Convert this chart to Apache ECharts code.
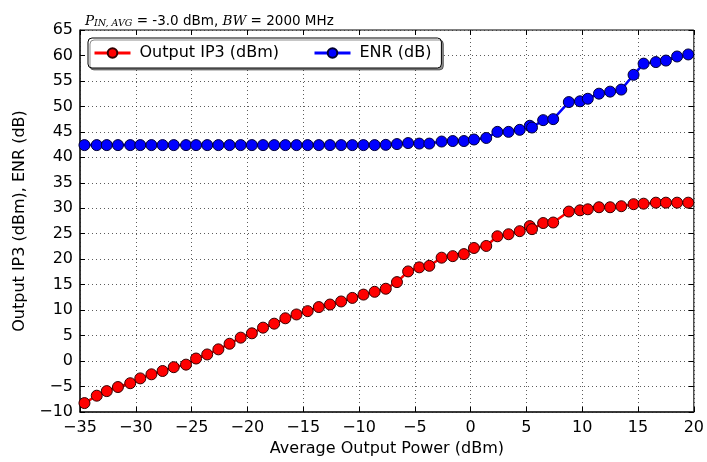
<!DOCTYPE html>
<html><head><meta charset="utf-8">
<script src="https://cdn.jsdelivr.net/npm/echarts@6/dist/echarts.min.js"></script>
<style>html,body{margin:0;padding:0;background:#fff}#c{width:707px;height:462px}</style>
</head><body><div id="c"></div>
<script>
const outputPower = [-34.6,-33.5,-32.6,-31.6,-30.5,-29.6,-28.6,-27.6,-26.6,-25.5,-24.6,-23.6,-22.6,-21.6,-20.6,-19.6,-18.6,-17.6,-16.6,-15.6,-14.6,-13.6,-12.6,-11.6,-10.6,-9.6,-8.6,-7.6,-6.6,-5.6,-4.6,-3.7,-2.6,-1.6,-0.6,0.3,1.4,2.4,3.4,4.4,5.3,5.5,6.5,7.4,8.8,9.8,10.5,11.5,12.5,13.5,14.6,15.5,16.6,17.5,18.5,19.5];
const outputIP3 = [-8.25,-6.8,-5.9,-5.1,-4.35,-3.4,-2.6,-1.95,-1.2,-0.7,0.5,1.3,2.3,3.4,4.6,5.45,6.56,7.34,8.4,9.15,9.8,10.6,11.1,11.7,12.4,13.05,13.6,14.2,15.5,17.6,18.4,18.7,20.3,20.6,21.0,22.2,22.6,24.5,24.9,25.5,26.5,25.9,27.1,27.2,29.35,29.6,29.8,30.2,30.2,30.4,30.8,30.9,31.1,31.1,31.1,31.1];
const enr = [42.4,42.4,42.4,42.4,42.4,42.4,42.4,42.4,42.4,42.4,42.4,42.4,42.4,42.4,42.4,42.4,42.4,42.4,42.4,42.4,42.4,42.4,42.4,42.4,42.4,42.4,42.4,42.45,42.6,42.8,42.7,42.7,43.1,43.2,43.2,43.5,43.8,45.0,45.0,45.4,46.2,45.85,47.3,47.5,50.85,51.0,51.5,52.5,52.9,53.3,56.2,58.4,58.7,59.0,59.8,60.2];
const seriesNames = ['Output IP3 (dBm)', 'ENR (dB)'];
const xTicks = {min:-35, max:20, interval:5};
const yTicks = {min:-10, max:65, interval:5};

const F = 'DejaVu Sans';
const minus = v => String(v).replace('-', '\u2212');
const chart = echarts.init(document.getElementById('c'), null, {renderer:'canvas'});
const mk = (xs, ys) => xs.map((x,i)=>[x, ys[i]]);
const tickStyle = {show:true, inside:true, length:5, lineStyle:{color:'#000', width:1}};
chart.setOption({
  animation:false,
  backgroundColor:'#fff',
  title:{
    left:80, top:8,
    text:'{m|P}{s|IN, AVG}{n| = -3.0 dBm, }{m|BW}{n| = 2000 MHz}',
    textStyle:{fontWeight:'normal', rich:{
      m:{fontFamily:'DejaVu Serif', fontStyle:'italic', fontWeight:'normal', fontSize:13.5, color:'#000'},
      s:{fontFamily:'DejaVu Serif', fontStyle:'italic', fontWeight:'normal', fontSize:9.5, color:'#000', verticalAlign:'bottom', padding:[6,0,0,0]},
      n:{fontFamily:F, fontWeight:'normal', fontSize:13.5, color:'#000'}
    }}
  },
  grid:{left:80, right:4, top:30, bottom:47, show:true, borderColor:'#000', borderWidth:1, backgroundColor:'transparent'},
  legend:{
    left:88, top:38, width:357,
    data:seriesNames,
    backgroundColor:'#fff', borderColor:'#000', borderWidth:1, borderRadius:4,
    shadowColor:'rgba(0,0,0,0.45)', shadowBlur:0, shadowOffsetX:2, shadowOffsetY:2,
    padding:[7,10,7,5], itemWidth:36, itemHeight:12, itemGap:34,
    lineStyle:{width:3},
    textStyle:{fontFamily:F, fontSize:16, color:'#000', padding:[0,0,0,4]}
  },
  xAxis:[{
    type:'value', min:xTicks.min, max:xTicks.max, interval:xTicks.interval,
    name:'Average Output Power (dBm)', nameLocation:'middle', nameGap:29,
    nameTextStyle:{fontFamily:F, fontSize:16, color:'#000'},
    axisLine:{show:true, onZero:false, lineStyle:{color:'#222', width:1.5}},
    axisTick:tickStyle,
    axisLabel:{fontFamily:F, fontSize:16, color:'#000', margin:8, formatter:minus},
    splitLine:{show:true, lineStyle:{color:'#333', type:[1,3], width:1, opacity:0.8}}
  },{
    type:'value', position:'top', min:xTicks.min, max:xTicks.max, interval:xTicks.interval,
    axisLine:{show:false, onZero:false}, axisTick:tickStyle, axisLabel:{show:false}, splitLine:{show:false}
  }],
  yAxis:[{
    type:'value', min:yTicks.min, max:yTicks.max, interval:yTicks.interval,
    name:'Output IP3 (dBm), ENR (dB)', nameLocation:'middle', nameGap:52, nameRotate:90,
    nameTextStyle:{fontFamily:F, fontSize:16, color:'#000'},
    axisLine:{show:true, onZero:false, lineStyle:{color:'#222', width:1.5}},
    axisTick:tickStyle,
    axisLabel:{fontFamily:F, fontSize:16, color:'#000', margin:7, formatter:minus},
    splitLine:{show:true, lineStyle:{color:'#333', type:[1,3], width:1, opacity:0.8}}
  },{
    type:'value', position:'right', min:yTicks.min, max:yTicks.max, interval:yTicks.interval,
    axisLine:{show:false, onZero:false}, axisTick:tickStyle, axisLabel:{show:false}, splitLine:{show:false}
  }],
  series:[{
    name:seriesNames[0], type:'line', data:mk(outputPower, outputIP3),
    symbol:'circle', symbolSize:11, showAllSymbol:true,
    lineStyle:{color:'#ff0000', width:2.5},
    itemStyle:{color:'#ff0000', borderColor:'#300', borderWidth:1},
    z:3
  },{
    name:seriesNames[1], type:'line', data:mk(outputPower, enr),
    symbol:'circle', symbolSize:11, showAllSymbol:true,
    lineStyle:{color:'#0000ff', width:2.5},
    itemStyle:{color:'#0000ff', borderColor:'#003', borderWidth:1},
    z:3
  }]
});
</script></body></html>
